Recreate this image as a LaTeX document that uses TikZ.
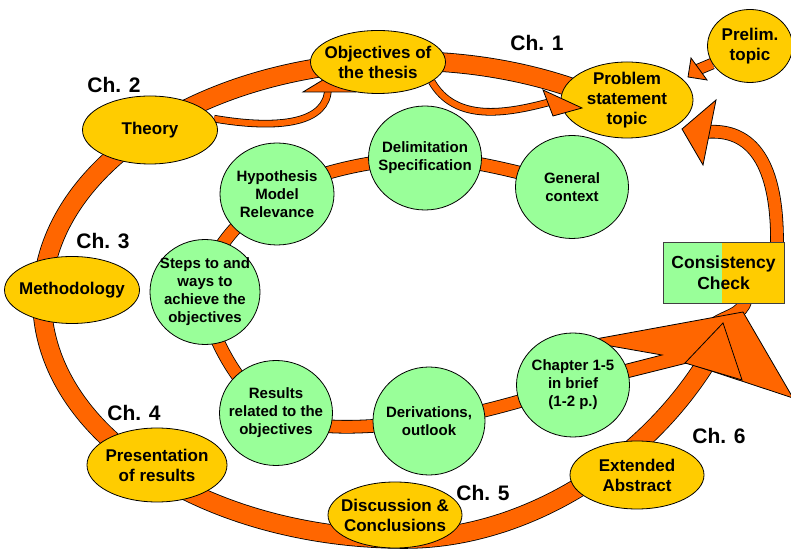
\documentclass[tikz,border=0pt]{standalone}
\usepackage{fontspec}
\setmainfont{Liberation Sans}
\usepackage{tikz}
\usetikzlibrary{
    shapes.geometric,
    backgrounds
}
\definecolor{ringorange}{RGB}{255,102,0}
\definecolor{chapyellow}{RGB}{255,204,0}
\definecolor{topicgreen}{RGB}{153,255,153}
\tikzset{
    chapterellipse/.style={ellipse, draw=black, line width=0.8pt, fill=chapyellow, inner xsep=-8pt, inner ysep=-6pt, align=center, font=\fontsize{17}{20}\selectfont\bfseries},
    topiccircle/.style={ellipse, draw=black, line width=0.8pt, fill=topicgreen, inner xsep=-8pt, inner ysep=-6pt, align=center, font=\fontsize{15}{18}\selectfont\bfseries},
    chlabel/.style={inner sep=0pt, font=\fontsize{21}{24}\selectfont\bfseries},
    band/.style={draw=black, line width=0.8pt, double=ringorange, double distance=#1},
    blockhead/.style={draw=black, line width=0.8pt, fill=ringorange, line join=miter}
}

\begin{document}
\begin{tikzpicture}[x=1pt, y=1pt]
                                \useasboundingbox (0,0) rectangle (791,548);
                                \node[chapterellipse, minimum width=135, minimum height=63] (obj) at (378,486) {Objectives of\\the thesis};
                                \node[chapterellipse, minimum width=132, minimum height=76] (prob) at (627,448) {Problem\\statement\\topic};
                                \node[chapterellipse, minimum width=85, minimum height=73] (prelim) at (750,502) {Prelim.\\topic};
                                \node[chapterellipse, minimum width=135, minimum height=68] (theory) at (150,418) {Theory};
                                \node[chapterellipse, minimum width=135, minimum height=67] (method) at (72,258) {Methodology};
                                \node[chapterellipse, minimum width=140, minimum height=74] (present) at (157,83) {Presentation\\of results};
                                \node[chapterellipse, minimum width=134, minimum height=66] (discuss) at (395,33) {Discussion \&\\Conclusions};
                                \node[chapterellipse, minimum width=134, minimum height=68] (extabs) at (637,73) {Extended\\Abstract};
                                \node[topiccircle, minimum width=113, minimum height=103] (gen) at (572,361) {General\\context};
                                \node[topiccircle, minimum width=113, minimum height=104] (delim) at (425,390) {Delimitation\\Specification};
                                \node[topiccircle, minimum width=114, minimum height=102] (hyp) at (277,354) {Hypothesis\\Model\\Relevance};
                                \node[topiccircle, minimum width=110, minimum height=105] (steps) at (205,256) {Steps to and\\ways to\\achieve the\\objectives};
                                \node[topiccircle, minimum width=113, minimum height=105] (res) at (276,135) {Results\\related to the\\objectives};
                                \node[topiccircle, minimum width=112, minimum height=108] (deriv) at (429,127) {Derivations,\\outlook};
                                \node[topiccircle, minimum width=113, minimum height=104] (chap) at (573,163) {Chapter 1-5\\in brief\\(1-2 p.)};
                                \node[draw=black!75, line width=0.8pt, fill=chapyellow, minimum width=121, minimum height=61, inner sep=0pt, align=center, font=\fontsize{17.5}{21}\selectfont\bfseries, path picture={\fill[topicgreen] (path picture bounding box.south west) rectangle ([xshift=-1.5pt]path picture bounding box.north);}] (check) at (723.5,275.5) {Consistency\\Check};
                                \coordinate (ringstart) at (623.5,438.9);
                                \coordinate (ringend) at (706,185);
                                \coordinate (backbase) at (706,416);
                                \coordinate (prelimbase) at (697,478);
                                \coordinate (objbase) at (328,460);
                                \coordinate (probbase) at (550,446);
                                \begin{scope}[on background layer]
                                    \draw[band=18pt] (ringstart) arc[start angle=53, end angle=270, x radius=363, y radius=239] .. controls (520,9) and (640,80) .. (ringend);
                                    \draw[band=12pt] plot[smooth, tension=0.6] coordinates {(gen.center) (delim.center) (hyp.center) (steps.center) (res.center) (deriv.center) (chap.center)};
                                    \draw[band=12pt] ([xshift=53.5pt, yshift=-4pt]check.north) .. controls (778,385) and (752,420) .. (backbase);
                                    \filldraw[blockhead] (716,448) -- (682,419) -- (703,383) -- cycle;
                                    \draw[band=12pt] ([xshift=22pt, yshift=4pt]check.south) to[out=-100, in=40] (712,222);
                                    \filldraw[blockhead] (590,208) -- (743,236) -- (793,150) -- (687,185) -- (615,167) -- (615,181) -- (662,193) -- (605,203) -- cycle;
                                    \filldraw[blockhead] (685,185) -- (723,225) -- (742,168) -- cycle;
                                    \draw[band=10pt] (prelim.205) -- (prelimbase);
                                    \filldraw[blockhead] (691,490) -- (688,471) -- (707,468) -- cycle;
                                    \draw[band=6pt] (theory.10) .. controls (280,418) and (328,425) .. (objbase);
                                    \filldraw[blockhead] (303,456) -- (336,476) -- (355,456) -- cycle;
                                    \draw[band=6pt] (obj.-20) to[out=-60, in=195] (probbase);
                                \end{scope}
                                \filldraw[blockhead] (543,458) -- (582,440) -- (553,432) -- cycle;
                                \node[chlabel] (ch1) at (537,505) {Ch. 1};
                                \node[chlabel] (ch2) at (114,463) {Ch. 2};
                                \node[chlabel] (ch3) at (103,307) {Ch. 3};
                                \node[chlabel] (ch4) at (134,135) {Ch. 4};
                                \node[chlabel] (ch5) at (483,55) {Ch. 5};
                                \node[chlabel] (ch6) at (719,112) {Ch. 6};
                            \end{tikzpicture}
\end{document}
